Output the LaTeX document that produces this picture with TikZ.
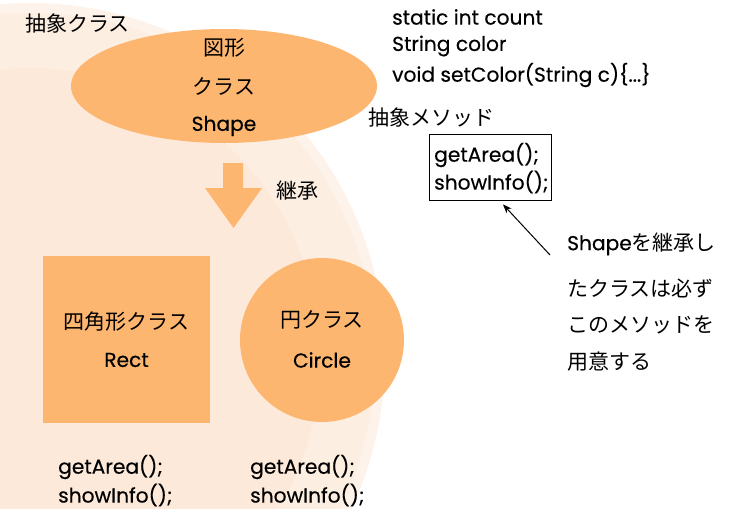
\documentclass[tikz,border=0pt]{standalone}
\usepackage{fontspec}
\setmainfont{Poppins}[FakeBold=0.35]
\newfontfamily\jp{Noto Sans CJK JP}
\usetikzlibrary{shapes.geometric,arrows.meta}
\definecolor{bgrim}{HTML}{FEF3EA}
\definecolor{bgmid}{HTML}{FDEEE2}
\definecolor{bgin}{HTML}{FDE9DA}
\definecolor{peach}{HTML}{FDB670}
\tikzset{
  en/.style={inner sep=0pt, font=\fontsize{20.2}{24}\selectfont},
  ja/.style={inner sep=0pt, font=\jp\fontsize{21}{25}\selectfont},
  shapebox/.style={fill=peach, draw=none, inner sep=0pt},
}
\begin{document}
\begin{tikzpicture}[x=1pt,y=-1pt]
\useasboundingbox (0,0) rectangle (740,509);
\begin{scope}
  \clip (0,0) rectangle (740,509);
  \fill[bgrim] (30,358) circle[radius=355pt];
  \fill[bgmid] (30,358) circle[radius=345pt];
  \fill[bgin] (30,358) circle[radius=290pt];
\end{scope}

% abstract class label
\node[ja, anchor=west] (abslabel) at (25,24) {抽象クラス};

% ellipse Shape
\node[shapebox, ellipse, minimum width=306pt, minimum height=114pt] (shape) at (224,86) {};
\node[ja] (shapet1) at (224,48) {図形};
\node[ja] (shapet2) at (224,86) {クラス};
\node[en] (shapet3) at (224,126) {Shape};

% inheritance block arrow
\fill[peach] (223,163) -- (243,163) -- (243,188) -- (262,188) -- (233.5,228) -- (205,188) -- (223,188) -- cycle;
\node[ja, anchor=west] (inherit) at (276,191) {継承};

% Rect
\node[shapebox, minimum width=167pt, minimum height=167pt] (rect) at (126.5,339.5) {};
\node[ja] (rectt1) at (126.5,322) {四角形クラス};
\node[en] (rectt2) at (126.5,360) {Rect};

% Circle
\node[shapebox, circle, minimum size=164pt] (circ) at (322,340) {};
\node[ja] (circt1) at (322,320) {円クラス};
\node[en] (circt2) at (322,360) {Circle};

% method lists under subclasses
\node[en, anchor=west] (rm1) at (58,467) {getArea();};
\node[en, anchor=west] (rm2) at (58,495) {showInfo();};
\node[en, anchor=west] (cm1) at (250,467) {getArea();};
\node[en, anchor=west] (cm2) at (250,495) {showInfo();};

% members of Shape
\node[en, anchor=west] (m1) at (392,17) {static int count};
\node[en, anchor=west] (m2) at (392,46) {String color};
\node[en, anchor=west] (m3) at (392,75) {void setColor(String c)\{...\}};

% abstract methods
\node[ja, anchor=west] (absm) at (368,118) {抽象メソッド};
\node[draw=black, line width=0.8pt, minimum width=122pt, minimum height=66pt, inner sep=0pt] (box) at (490,167) {};
\node[en, anchor=west] (b1) at (434,155) {getArea();};
\node[en, anchor=west] (b2) at (434,182) {showInfo();};

% note
\coordinate (notestart) at (550,255);
\coordinate (notetip) at ([shift={(13,4)}]box.south);
\draw[line width=1pt, -{Stealth[length=9pt,width=7pt]}] (notestart) -- (notetip);
\node[anchor=west, inner sep=0pt, font=\fontsize{20.2}{24}\selectfont] (n1) at (567,244) {Shape{\jp\fontsize{21}{25}\selectfont を継承し}};
\node[ja, anchor=west] (n2) at (567,288) {たクラスは必ず};
\node[ja, anchor=west] (n3) at (567,325) {このメソッドを};
\node[ja, anchor=west] (n4) at (567,362) {用意する};
\end{tikzpicture}
\end{document}
